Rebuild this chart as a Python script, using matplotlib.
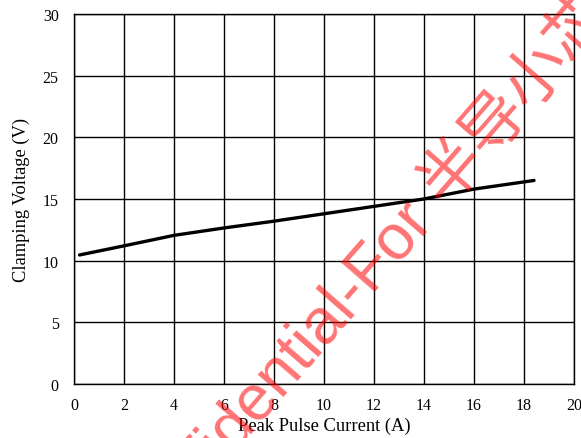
import matplotlib
matplotlib.use("Agg")
import matplotlib.pyplot as plt

# peak pulse current (A) vs clamping voltage (V)
current = [0.22, 2, 4, 6, 8, 10, 12, 14, 16, 18.4]
voltage = [10.46, 11.2, 12.05, 12.65, 13.2, 13.8, 14.4, 15.0, 15.8, 16.5]

xticks = [0, 2, 4, 6, 8, 10, 12, 14, 16, 18, 20]
yticks = [0, 5, 10, 15, 20, 25, 30]

plt.rcParams['font.family'] = ['Liberation Serif', 'Noto Sans CJK SC']

fig = plt.figure(figsize=(5.81, 4.39), dpi=100)
ax = fig.add_axes([0.1274, 0.123, 0.8606, 0.843])

ax.plot(current, voltage, color='black', linewidth=2.4, solid_capstyle='round')

ax.set_xlim(0, 20)
ax.set_ylim(0, 30)
ax.set_xticks(xticks)
ax.set_yticks(yticks)
ax.tick_params(length=0, labelsize=11.5)
ax.tick_params(axis='x', pad=9)
ax.tick_params(axis='y', pad=11)
ax.grid(True, color='black', linewidth=1.0)
ax.set_axisbelow(True)
for s in ax.spines.values():
    s.set_color('black')
    s.set_linewidth(1.0)

ax.set_xlabel("Peak Pulse Current (A)", fontsize=13.3, labelpad=3)
ax.set_ylabel("Clamping Voltage (V)", fontsize=13.3, labelpad=9)

# watermark
fig.text(0.236, -0.289, "Confidential-For 半导小芯", color='red', alpha=0.55,
         fontsize=46, rotation=49, rotation_mode='anchor',
         ha='left', va='baseline', family=['Liberation Sans', 'Noto Sans CJK SC'])

fig.savefig("out.png", dpi=100)
plt.close()
